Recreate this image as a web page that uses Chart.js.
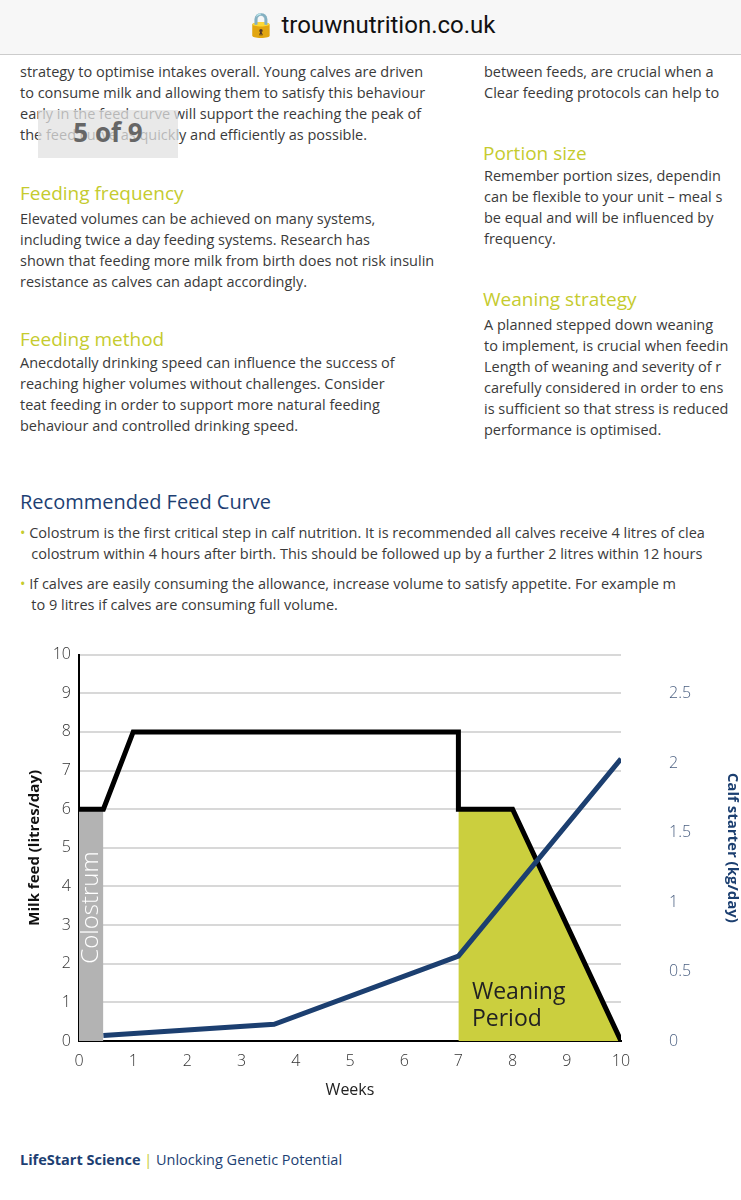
<!DOCTYPE html>
<html><head><meta charset="utf-8">
<script src="https://cdn.jsdelivr.net/npm/chart.js@4/dist/chart.umd.min.js"></script>
<style>
body{margin:0;width:741px;height:1200px;background:#fff;font-family:"Open Sans",Lato,sans-serif;position:relative;overflow:hidden;color:#333}
.t{position:absolute;font-size:14.5px;line-height:21px;color:#3a3a3a}
.h{position:absolute;font-size:19px;color:#c5cb2e}
#bar{position:absolute;left:0;top:0;width:741px;height:54px;background:#f7f7f7;border-bottom:1px solid #ccc;text-align:center;font-size:24px;line-height:50px;color:#111;font-family:Roboto,sans-serif}
#pg{position:absolute;left:38px;top:110px;width:140px;height:48px;background:rgba(225,225,225,.75);font-size:26px;color:#666;font-weight:bold;text-align:center;line-height:44px}
</style></head><body>
<div id="bar">🔒 trouwnutrition.co.uk</div>
<div class="t" style="left:20px;top:61px;width:440px">strategy to optimise intakes overall. Young calves are driven<br>to consume milk and allowing them to satisfy this behaviour<br>early in the feed curve will support the reaching the peak of<br>the feed curve as quickly and efficiently as possible.</div>
<div id="pg">5 of 9</div>
<div class="t" style="left:484px;top:61px;white-space:nowrap">between feeds, are crucial when a<br>Clear feeding protocols can help to</div>
<div class="h" style="left:483px;top:140px">Portion size</div>
<div class="t" style="left:484px;top:165px;white-space:nowrap">Remember portion sizes, dependin<br>can be flexible to your unit – meal s<br>be equal and will be influenced by<br>frequency.</div>
<div class="h" style="left:20px;top:180px">Feeding frequency</div>
<div class="t" style="left:20px;top:208px;width:440px">Elevated volumes can be achieved on many systems,<br>including twice a day feeding systems. Research has<br>shown that feeding more milk from birth does not risk insulin<br>resistance as calves can adapt accordingly.</div>
<div class="h" style="left:483px;top:286px">Weaning strategy</div>
<div class="t" style="left:484px;top:314px;white-space:nowrap">A planned stepped down weaning<br>to implement, is crucial when feedin<br>Length of weaning and severity of r<br>carefully considered in order to ens<br>is sufficient so that stress is reduced<br>performance is optimised.</div>
<div class="h" style="left:20px;top:326px">Feeding method</div>
<div class="t" style="left:20px;top:352px;width:440px">Anecdotally drinking speed can influence the success of<br>reaching higher volumes without challenges. Consider<br>teat feeding in order to support more natural feeding<br>behaviour and controlled drinking speed.</div>
<div style="position:absolute;left:20px;top:488px;font-size:20px;color:#1d3f73">Recommended Feed Curve</div>
<div class="t" style="left:20px;top:522px;white-space:nowrap"><span style="color:#c5cb2e">•</span> Colostrum is the first critical step in calf nutrition. It is recommended all calves receive 4 litres of clea<br>&nbsp;&nbsp;&nbsp;colostrum within 4 hours after birth. This should be followed up by a further 2 litres within 12 hours</div>
<div class="t" style="left:20px;top:573px;white-space:nowrap"><span style="color:#c5cb2e">•</span> If calves are easily consuming the allowance, increase volume to satisfy appetite. For example m<br>&nbsp;&nbsp;&nbsp;to 9 litres if calves are consuming full volume.</div>
<div style="position:absolute;left:0;top:605px;width:741px;height:495px"><canvas id="c"></canvas></div>
<div style="position:absolute;left:20px;top:1150px;font-size:14.5px;color:#1d3f73"><b>LifeStart Science</b> <span style="color:#c5cb2e">|</span> Unlocking Genetic Potential</div>
<script>
const weeks=[0,0.45,1,7,7,8,10];
const milk=[6,6,8,8,6,6,0];
const colostrumX=[0,0.45], colostrumY=[6,6];
const weaningX=[7,8,10], weaningY=[6,6,0];
const starterX=[0.45,3.6,7,10], starterY=[0.04,0.12,0.61,2.03];
const milkTicks=[0,1,2,3,4,5,6,7,8,9,10];
const starterTicks=[0,0.5,1,1.5,2,2.5];
const pts=(xs,ys)=>xs.map((x,i)=>({x,y:ys[i]}));
const labels={id:'lbl',afterDatasetsDraw(ch){const {ctx,scales:{x,y}}=ch;ctx.save();
ctx.fillStyle='#fff';ctx.font='300 24px "Open Sans"';ctx.translate(x.getPixelForValue(0.22),y.getPixelForValue(2));ctx.rotate(-Math.PI/2);ctx.textBaseline='middle';ctx.fillText('Colostrum',0,0);ctx.restore();
ctx.save();ctx.fillStyle='#222';ctx.font='23px "Open Sans"';ctx.fillText('Weaning',x.getPixelForValue(7.25),y.getPixelForValue(0.35)-28);ctx.fillText('Period',x.getPixelForValue(7.25),y.getPixelForValue(0.4));ctx.restore();}};
new Chart(document.getElementById('c'),{type:'scatter',plugins:[labels],
data:{datasets:[
{data:pts(colostrumX,colostrumY),showLine:true,fill:'origin',backgroundColor:'#b3b3b3',borderWidth:0,pointRadius:0,order:3},
{data:pts(weaningX,weaningY),showLine:true,fill:'origin',backgroundColor:'#cbcf3e',borderWidth:0,pointRadius:0,order:3},
{data:pts(weeks,milk),showLine:true,borderColor:'#000',borderWidth:5,pointRadius:0,order:2},
{data:pts(starterX,starterY),showLine:true,borderColor:'#1c3f70',borderWidth:5,pointRadius:0,yAxisID:'y2',order:1}]},
options:{responsive:true,maintainAspectRatio:false,animation:false,layout:{padding:{top:13}},
plugins:{legend:{display:false},tooltip:{enabled:false}},
scales:{
x:{type:'linear',min:0,max:10,afterBuildTicks(a){a.ticks=milkTicks.map(v=>({value:v}))},grid:{display:false,drawTicks:true},border:{color:'#000',width:2},
 ticks:{color:'#333',font:{size:16,family:'Open Sans',weight:300}},title:{display:true,text:'Weeks',color:'#222',font:{size:16,family:'Open Sans'},padding:{top:-4,bottom:0}},afterFit(a){a.height=59}},
y:{min:0,max:10,afterBuildTicks(a){a.ticks=milkTicks.map(v=>({value:v}))},grid:{color:'#d8d8d8',lineWidth:2,drawTicks:false},border:{color:'#000',width:2},
 ticks:{color:'#333',padding:8,font:{size:16,family:'Open Sans',weight:300}},title:{display:true,text:'Milk feed (litres/day)',color:'#111',font:{size:15,family:'Open Sans',weight:'bold'},padding:{top:26,bottom:0}},afterFit(a){a.width=79}},
y2:{position:'right',min:0,max:2.78,afterBuildTicks(a){a.ticks=starterTicks.map(v=>({value:v}))},grid:{display:false},border:{display:false},
 ticks:{color:'#4a5f80',padding:40,callback:v=>String(v),font:{size:16,family:'Open Sans',weight:300}},title:{display:true,text:'Calf starter (kg/day)',color:'#1c3f70',font:{size:15,family:'Open Sans',weight:'bold'},padding:{top:0,bottom:20}},afterFit(a){a.width=120}}}}});
</script></body></html>
